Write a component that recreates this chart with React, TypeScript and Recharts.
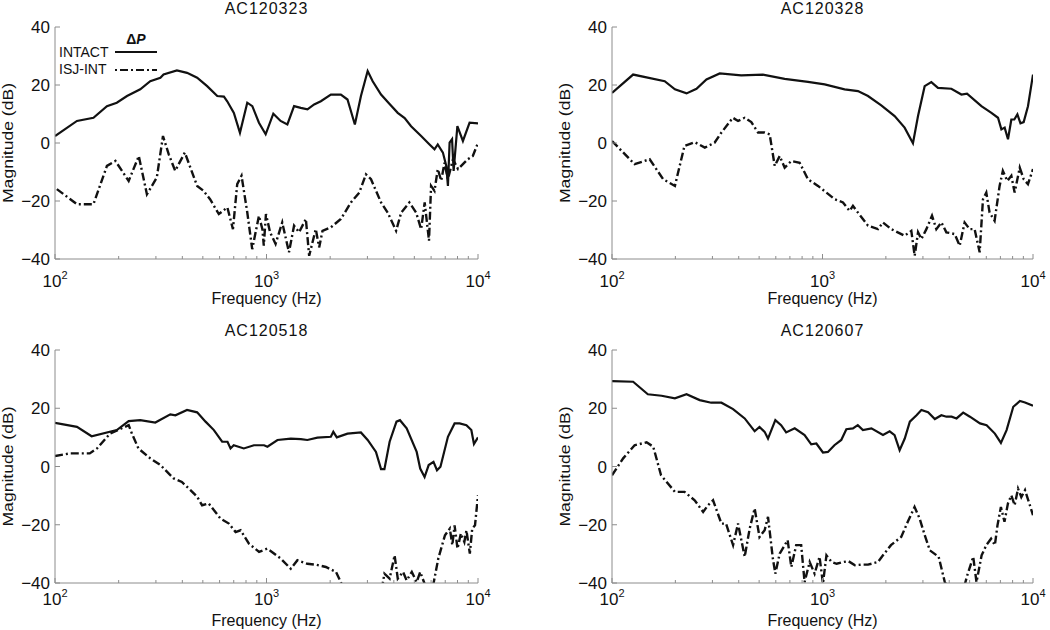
import React from 'react';
import { Legend, Line, LineChart, XAxis, YAxis } from 'recharts';

const FONT = '"Liberation Sans", Arial, Helvetica, sans-serif';
const BOX = '#8c8c8c';
const INK = '#111111';

const xTicks = [100, 200, 300, 400, 500, 600, 700, 800, 900, 1000, 2000, 3000, 4000, 5000, 6000, 7000, 8000, 9000, 10000];
const xMajor: Record<number, string> = { 100: '2', 1000: '3', 10000: '4' };
const yTicks = [-40, -20, 0, 20, 40];
const titles = ['AC120323', 'AC120328', 'AC120518', 'AC120607'];

// AC120323
const p1IntactF = [100, 127, 152, 176, 196, 219, 253, 282, 315, 326, 377, 421, 470, 524, 585, 629, 652, 701, 749, 811, 857, 921, 991, 1077, 1166, 1255, 1350, 1452, 1562, 1680, 1807, 2015, 2247, 2415, 2617, 2796, 3008, 3177, 3480, 3800, 4172, 4500, 4826, 5384, 5900, 6227, 6453, 6824, 7080, 7208, 7340, 7539, 7670, 7989, 8486, 9125, 10000];
const p1IntactDb = [2.4, 7.6, 8.7, 12.7, 13.9, 16.2, 18.5, 21.3, 22.5, 23.6, 25, 24.2, 22.5, 19.6, 16.2, 16, 14.4, 10.4, 3.5, 13.9, 12.7, 7, 3, 10.1, 7.6, 6.4, 12.7, 12.1, 11.6, 13.3, 14.4, 16.7, 16.7, 15, 6.4, 16.2, 24.8, 21.3, 16.7, 13.6, 10.4, 8.6, 5.8, 2.4, -0.5, -2.2, -0.5, -3.3, -7.9, -14.8, 0.1, 1.3, -9.6, 5.8, 0.7, 7, 6.8];
const p1IsjF = [102, 127, 152, 176, 193, 223, 249, 272, 303, 324, 345, 370, 411, 470, 504, 541, 595, 653, 694, 727, 762, 811, 856, 921, 956, 971, 994, 1040, 1104, 1187, 1277, 1350, 1426, 1535, 1591, 1710, 1774, 1840, 2015, 2247, 2508, 2746, 2953, 3120, 3480, 3741, 4100, 4332, 4739, 5100, 5384, 5597, 5866, 6000, 6227, 6454, 6700, 6945, 7208, 7615, 8047, 8486, 8951, 9455, 10000];
const p1IsjDb = [-15.9, -21.1, -21.1, -7.9, -6.2, -13.1, -4.5, -17.7, -11.9, 2.4, -3.9, -9.6, -3.3, -14.8, -16.5, -19.4, -24.5, -22.2, -29.7, -14.2, -11.3, -23.9, -36.6, -25.1, -29.7, -35.4, -24.5, -30.8, -34.8, -27.4, -37.7, -28.5, -30.8, -26.2, -38.9, -29.7, -36, -30.3, -29.1, -26.2, -20.5, -17.1, -10.8, -12.5, -20.5, -24, -30.3, -24, -20.5, -24, -29.7, -20.5, -33.7, -14.8, -16.5, -9, -13, -6.8, -12.5, -5.6, -9, -7.3, -5.6, -4.5, 0.1];

// AC120328
const p2IntactF = [100, 126, 178, 199, 226, 252, 281, 325, 411, 521, 661, 853, 1024, 1274, 1474, 1645, 1902, 2201, 2455, 2690, 2843, 3057, 3288, 3536, 4094, 4570, 4860, 5687, 6345, 6820, 7077, 7335, 7607, 7890, 8150, 8430, 8720, 9030, 9465, 10000];
const p2IntactDb = [17.3, 23.6, 21.3, 18.5, 17.1, 18.7, 21.9, 24, 23.3, 23.6, 22.1, 21.1, 20.2, 18.5, 17.9, 16.2, 13, 9.3, 5.3, -0.1, 9.3, 19.6, 21, 19, 18.7, 16.7, 17, 12.7, 10.4, 8.7, 4.7, 5.3, 1.3, 8.1, 8.1, 9.9, 6.8, 7.2, 12.7, 23.6];
const p2IsjF = [100, 128, 151, 175, 199, 221, 247, 276, 307, 331, 375, 397, 427, 459, 494, 530, 561, 593, 626, 661, 711, 779, 853, 952, 1143, 1251, 1345, 1395, 1474, 1645, 1835, 1938, 2123, 2455, 2642, 2741, 2843, 2949, 3115, 3313, 3474, 3672, 3876, 4245, 4485, 4734, 5000, 5280, 5580, 5785, 6000, 6220, 6570, 6940, 7190, 7550, 7890, 8180, 8650, 9030, 9465, 10000];
const p2IsjDb = [0.7, -7.3, -5.6, -12.5, -14.8, -1, 0.3, -1.6, 0.1, 3.6, 8.7, 7.6, 8.7, 7.2, 3.6, 3.6, 3, -7.9, -4.5, -8.5, -6.2, -6.8, -12.5, -14.8, -19.4, -20.5, -23.4, -21.7, -24, -28.5, -29.7, -27.4, -29.7, -32, -30.3, -38.9, -30.8, -33.1, -29.7, -25.1, -29.7, -27.4, -30.8, -31.4, -35.4, -27.4, -29.7, -29.7, -37.7, -19.4, -17.1, -24, -26.8, -14.8, -9.6, -13.1, -11.3, -17.1, -8.5, -12.5, -14.2, -9];

// AC120518
const p3IntactF = [100, 127, 149, 196, 223, 253, 298, 351, 371, 421, 470, 515, 564, 617, 654, 676, 700, 781, 872, 974, 1010, 1127, 1302, 1453, 1560, 1740, 2015, 2070, 2150, 2415, 2795, 3008, 3293, 3480, 3610, 3821, 4117, 4275, 4600, 5130, 5330, 5590, 5845, 6160, 6400, 6645, 7208, 7750, 8190, 8815, 9300, 9570, 10000];
const p3IntactDb = [15, 13.6, 10.4, 12.5, 15.6, 15.9, 15.1, 17.9, 17.6, 19.4, 18.6, 15.4, 12.5, 8.5, 8.5, 6.2, 7.3, 6.2, 7.3, 7.3, 6.8, 9.1, 9.6, 9.4, 9.1, 9.9, 10.2, 11.9, 10, 11.3, 11.7, 9.1, 5, -0.9, -0.9, 8.5, 15.4, 15.9, 13.1, 5, -0.7, -3.6, 0.5, 1.6, -1.3, -0.1, 10.2, 14.8, 14.8, 14.2, 12.5, 7.7, 10];
const p3IsjF = [100, 118, 146, 158, 182, 223, 231, 248, 282, 315, 364, 398, 437, 470, 496, 533, 606, 664, 714, 754, 826, 922, 1010, 1167, 1302, 1400, 1561, 1710, 1909, 2130, 2245, 2285, 2600, 3400, 3610, 3821, 4034, 4175, 4420, 4600, 4865, 5130, 5330, 5627, 5900, 6160, 6490, 6980, 7360, 7560, 7750, 8000, 8300, 8620, 8815, 9150, 9390, 9680, 10000];
const p3IsjDb = [3.6, 4.5, 4.5, 6.2, 11.3, 14.2, 11.3, 6.2, 2.8, 0.5, -4.1, -5.3, -8.1, -10.4, -13.3, -12.7, -17.9, -19.6, -22.5, -21.9, -26.5, -29.3, -28.2, -31.6, -35.1, -32.2, -33.4, -33.7, -34.5, -36.2, -39.7, -41, -48, -48, -36.8, -38.5, -30.5, -38.5, -36.2, -39.1, -36.2, -39.7, -36.2, -40.8, -42, -40.2, -31.6, -23.6, -21.3, -27, -20.2, -28.2, -23, -25.9, -21.9, -29.9, -21.3, -20.2, -9.9];

// AC120607
const p4IntactF = [100, 126, 148, 172, 199, 226, 261, 296, 331, 376, 427, 476, 502, 531, 551, 597, 636, 672, 738, 822, 884, 935, 1005, 1061, 1139, 1228, 1298, 1395, 1471, 1556, 1708, 1938, 2085, 2200, 2325, 2459, 2600, 2797, 2950, 3174, 3417, 3670, 3880, 4105, 4333, 4660, 5015, 5600, 6020, 6590, 7040, 7490, 8060, 8670, 9165, 10000];
const p4IntactDb = [29.3, 29.1, 24.8, 24.3, 23.4, 24.8, 22.8, 21.9, 21.9, 19.7, 16.5, 12.1, 13.6, 11.9, 9.6, 15.9, 14.2, 11.7, 13.1, 10.8, 7.6, 7.9, 4.8, 5, 7.3, 9.1, 12.8, 13.1, 14.2, 12.5, 13.1, 10.8, 12.1, 10.8, 5.6, 9.6, 15.4, 17.6, 19.4, 18.6, 16.3, 17.6, 17.1, 17.1, 16.5, 18.5, 17.1, 14.8, 14.2, 11.3, 8.1, 12.5, 20.5, 22.5, 22, 20.9];
const p4IsjF = [100, 113, 128, 146, 157, 171, 199, 221, 247, 271, 286, 302, 331, 348, 376, 397, 427, 451, 476, 502, 531, 551, 581, 597, 626, 683, 711, 750, 792, 822, 869, 917, 968, 1005, 1044, 1105, 1167, 1253, 1327, 1426, 1530, 1644, 1834, 1938, 2114, 2365, 2542, 2737, 2894, 3060, 3237, 3563, 3810, 3953, 4300, 4730, 4870, 5200, 5390, 5700, 6000, 6320, 6590, 6780, 7040, 7320, 7600, 7890, 8180, 8490, 8800, 9165, 9500, 10000];
const p4IsjDb = [-3, 2.8, 7.3, 8.3, 6.8, -3, -8.7, -8.7, -11.6, -15.6, -13.3, -11.6, -19.6, -19.6, -27, -19.6, -31, -21.3, -14.4, -24.2, -21.9, -17.3, -31.6, -36.8, -29.9, -25.3, -34.5, -27, -27, -39.7, -32.8, -36.8, -31, -40.2, -30.5, -32.8, -33.4, -32.8, -32.5, -33.9, -33.7, -33.7, -32.8, -30.5, -27, -24.2, -19, -13.9, -17.9, -23.6, -28.8, -31, -39.7, -41.4, -47, -40.8, -37.4, -31, -39.7, -30.5, -27, -24.8, -27, -20.2, -13.9, -19, -12.7, -9.9, -13.3, -7.6, -10.5, -8.1, -11.6, -16.7];

const toRows = (f: number[], db: number[]) => f.map((x, i) => ({ f: x, db: db[i] }));

const panels = [
  { intact: toRows(p1IntactF, p1IntactDb), isj: toRows(p1IsjF, p1IsjDb), left: 0, top: 0, yw: 55, mr: 47, mt: 27, xh: 56, tickDy: 28, labelOff: 11 },
  { intact: toRows(p2IntactF, p2IntactDb), isj: toRows(p2IsjF, p2IsjDb), left: 525, top: 0, yw: 87, mr: 17, mt: 27, xh: 56, tickDy: 28, labelOff: 11 },
  { intact: toRows(p3IntactF, p3IntactDb), isj: toRows(p3IsjF, p3IsjDb), left: 0, top: 315, yw: 55, mr: 47, mt: 35, xh: 47, tickDy: 22, labelOff: 4 },
  { intact: toRows(p4IntactF, p4IntactDb), isj: toRows(p4IsjF, p4IsjDb), left: 525, top: 315, yw: 87, mr: 17, mt: 35, xh: 47, tickDy: 22, labelOff: 4 },
];

const fmtY = (v: number) => (v < 0 ? '\u2212' + Math.abs(v) : String(v));

const BottomTick = ({ x, y, payload, dy }: any) => {
  const exp = xMajor[payload.value];
  return (
    <g>
      <line x1={x} x2={x} y1={y} y2={y - (exp ? 5 : 3)} stroke={BOX} />
      {exp && (
        <text x={x} y={y + dy} textAnchor="middle" fontFamily={FONT} fontSize={17} fill={INK}>
          10<tspan dy={-8} fontSize={11}>{exp}</tspan>
        </text>
      )}
    </g>
  );
};

const TopTick = ({ x, y, payload }: any) => (
  <line x1={x} x2={x} y1={y} y2={y + (xMajor[payload.value] ? 5 : 3)} stroke={BOX} />
);

const LeftTick = ({ x, y, payload }: any) => (
  <g>
    <line x1={x} x2={x + 5} y1={y} y2={y} stroke={BOX} />
    <text x={x - 5} y={y} dy="0.36em" textAnchor="end" fontFamily={FONT} fontSize={17} fill={INK}>
      {fmtY(payload.value)}
    </text>
  </g>
);

const RightTick = ({ x, y }: any) => <line x1={x} x2={x - 5} y1={y} y2={y} stroke={BOX} />;

const renderLegend = () => (
  <svg width={200} height={90} style={{ display: 'block' }}>
    <text x={136} y={44} textAnchor="middle" fontFamily={FONT} fontSize={14} fontWeight="bold" fill={INK}>
      Δ<tspan fontStyle="italic">P</tspan>
    </text>
    <text x={59} y={57} fontFamily={FONT} fontSize={14} fill={INK}>INTACT</text>
    <line x1={115} x2={157} y1={52} y2={52} stroke={INK} strokeWidth={2.2} />
    <text x={59} y={74} fontFamily={FONT} fontSize={14} fill={INK}>ISJ-INT</text>
    <line x1={115} x2={157} y1={70} y2={70} stroke={INK} strokeWidth={2.2} strokeDasharray="2 3 8 3" />
  </svg>
);

const Panel = ({ p, title, legend }: any) => {
  const plotCx = p.left + p.yw + (525 - p.yw - p.mr) / 2;
  const yLabel = (props: any) => {
    const vb = props.viewBox;
    const cx = vb.x + vb.width - 47;
    const cy = vb.y + vb.height / 2;
    return (
      <text
        x={cx}
        y={cy}
        dy="0.36em"
        transform={`rotate(-90 ${cx} ${cy})`}
        textAnchor="middle"
        fontFamily={FONT}
        fontSize={15}
        textLength={120}
        lengthAdjust="spacingAndGlyphs"
        fill={INK}
      >
        Magnitude (dB)
      </text>
    );
  };
  const xLabel = (props: any) => {
    const vb = props.viewBox;
    return (
      <text x={vb.x + vb.width / 2} y={vb.y + vb.height - p.labelOff} textAnchor="middle" fontFamily={FONT} fontSize={16} fill={INK}>
        Frequency (Hz)
      </text>
    );
  };
  return (
    <>
      <div
        style={{
          position: 'absolute',
          left: plotCx - 100,
          top: p.top + (p.top ? 7 : 0),
          width: 200,
          textAlign: 'center',
          fontFamily: FONT,
          fontSize: 16,
          letterSpacing: 1,
          lineHeight: '18px',
          color: INK,
        }}
      >
        {title}
      </div>
      <div style={{ position: 'absolute', left: p.left, top: p.top }}>
        <LineChart width={525} height={315} margin={{ top: p.mt, right: p.mr, bottom: 0, left: 0 }}>
          <XAxis
            dataKey="f"
            type="number"
            scale="log"
            domain={[100, 10000]}
            allowDataOverflow
            ticks={xTicks}
            interval={0}
            height={p.xh}
            tickSize={0}
            tickMargin={0}
            tickLine={false}
            axisLine={{ stroke: BOX }}
            tick={(t: any) => <BottomTick {...t} dy={p.tickDy} />}
            label={xLabel}
          />
          <XAxis
            xAxisId="top"
            orientation="top"
            dataKey="f"
            type="number"
            scale="log"
            domain={[100, 10000]}
            allowDataOverflow
            ticks={xTicks}
            interval={0}
            height={0}
            tickSize={0}
            tickMargin={0}
            tickLine={false}
            axisLine={{ stroke: BOX }}
            tick={(t: any) => <TopTick {...t} />}
          />
          <YAxis
            type="number"
            domain={[-40, 40]}
            allowDataOverflow
            ticks={yTicks}
            interval={0}
            width={p.yw}
            tickSize={0}
            tickMargin={0}
            tickLine={false}
            axisLine={{ stroke: BOX }}
            tick={(t: any) => <LeftTick {...t} />}
            label={yLabel}
          />
          <YAxis
            yAxisId="right"
            orientation="right"
            type="number"
            domain={[-40, 40]}
            allowDataOverflow
            ticks={yTicks}
            interval={0}
            width={0}
            tickSize={0}
            tickMargin={0}
            tickLine={false}
            axisLine={{ stroke: BOX }}
            tick={(t: any) => <RightTick {...t} />}
          />
          <Line data={p.isj} dataKey="db" stroke={INK} strokeWidth={2.4} strokeDasharray="8 3 2 3" dot={false} isAnimationActive={false} />
          <Line data={p.intact} dataKey="db" stroke={INK} strokeWidth={2.2} dot={false} isAnimationActive={false} />
          {legend && (
            <Legend
              layout="horizontal"
              verticalAlign="middle"
              content={renderLegend}
              wrapperStyle={{ left: 0, top: 0, width: 200, height: 90 }}
            />
          )}
        </LineChart>
      </div>
    </>
  );
};

export default function App() {
  return (
    <div style={{ position: 'absolute', left: 0, top: 0, width: 1050, height: 630, background: '#fff' }}>
      {panels.map((p, i) => (
        <Panel key={titles[i]} p={p} title={titles[i]} legend={i === 0} />
      ))}
    </div>
  );
}
